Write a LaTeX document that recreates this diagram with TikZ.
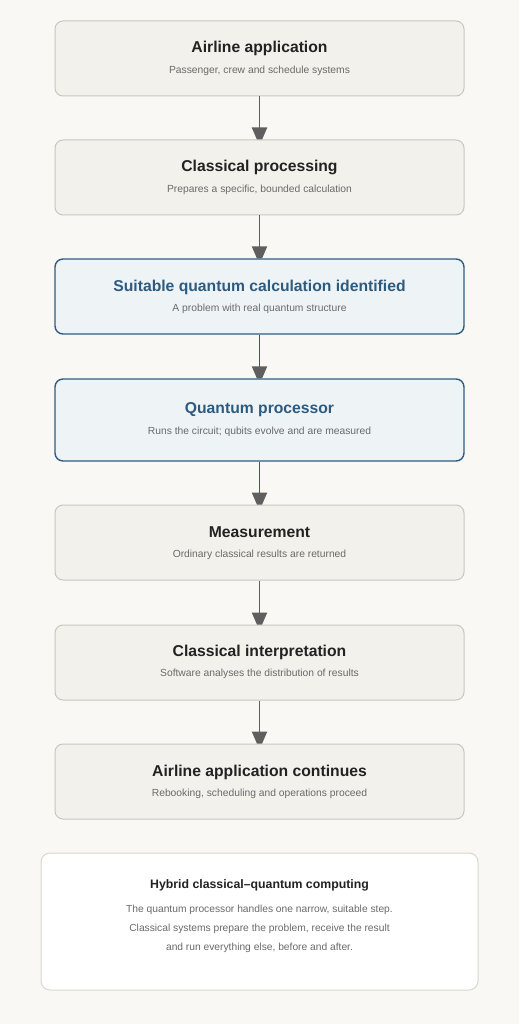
\documentclass[tikz,border=0pt]{standalone}
\usepackage{fontspec}
\setmainfont{Liberation Sans}
\usetikzlibrary{decorations.markings}
\definecolor{bg}{HTML}{F9F8F4}
\definecolor{boxfill}{HTML}{F2F1EC}
\definecolor{boxline}{HTML}{C9C6BD}
\definecolor{qfill}{HTML}{EEF3F6}
\definecolor{qline}{HTML}{2F5D82}
\definecolor{qtext}{HTML}{2D5B80}
\definecolor{dark}{HTML}{222222}
\definecolor{sub}{HTML}{6A6A6A}
\definecolor{arr}{HTML}{5F5F5F}
\definecolor{noteline}{HTML}{DAD7CE}
\tikzset{
  stepbox/.style={draw=boxline, fill=boxfill, line width=1pt, rounded corners=8pt, minimum width=409pt, minimum height=75pt, inner sep=0pt},
  qbox/.style={stepbox, draw=qline, fill=qfill, line width=1.4pt},
  ttl/.style={font=\fontsize{15.7}{18}\selectfont\bfseries, text=dark, inner sep=0pt},
  qttl/.style={ttl, text=qtext},
  subt/.style={font=\fontsize{10.3}{12}\selectfont, text=sub, inner sep=0pt},
  flow/.style={draw=arr, line width=1.8pt, shorten >=3pt,
    postaction={decorate, decoration={markings, mark=at position 1 with {
      \fill[arr] (-12pt,7.8pt) -- (0pt,2.6pt) -- (0pt,-2.6pt) -- (-12pt,-7.8pt) -- cycle;}}}},
  qflow/.style={flow, draw=qline}
}
\begin{document}
\begin{tikzpicture}[x=1pt,y=-1pt]
\fill[bg] (0,0) rectangle (519,1024);
\useasboundingbox (0,0) rectangle (519,1024);

\node[stepbox] (b1) at (259.5,58.5) {};
\node[ttl] (t1) at (259.5,48) {Airline application};
\node[subt] (s1) at (259.5,71) {Passenger, crew and schedule systems};

\node[stepbox] (b2) at (259.5,177.5) {};
\node[ttl] (t2) at (259.5,167) {Classical processing};
\node[subt] (s2) at (259.5,190) {Prepares a specific, bounded calculation};

\node[qbox] (b3) at (259.5,296.5) {};
\node[qttl] (t3) at (259.5,287) {Suitable quantum calculation identified};
\node[subt] (s3) at (259.5,309) {A problem with real quantum structure};

\node[qbox, minimum height=82pt] (b4) at (259.5,420) {};
\node[qttl] (t4) at (259.5,410) {Quantum processor};
\node[subt] (s4) at (259.5,432) {Runs the circuit; qubits evolve and are measured};

\node[stepbox] (b5) at (259.5,542.5) {};
\node[ttl] (t5) at (259.5,532) {Measurement};
\node[subt] (s5) at (259.5,555) {Ordinary classical results are returned};

\node[stepbox] (b6) at (259.5,662.5) {};
\node[ttl] (t6) at (259.5,652) {Classical interpretation};
\node[subt] (s6) at (259.5,674) {Software analyses the distribution of results};

\node[stepbox] (b7) at (259.5,781.5) {};
\node[ttl] (t7) at (259.5,772) {Airline application continues};
\node[subt] (s7) at (259.5,794) {Rebooking, scheduling and operations proceed};

\draw[flow] (b1.south) -- (b2.north);
\draw[flow] (b2.south) -- (b3.north);
\draw[qflow] (b3.south) -- (b4.north);
\draw[qflow] (b4.south) -- (b5.north);
\draw[flow] (b5.south) -- (b6.north);
\draw[flow] (b6.south) -- (b7.north);

\node[draw=noteline, fill=white, line width=1pt, rounded corners=9pt, minimum width=437pt, minimum height=137pt, inner sep=0pt] (note) at (259.5,921.5) {};
\node[font=\fontsize{12.3}{14}\selectfont\bfseries, text=dark, inner sep=0pt] (nt) at (259.5,885) {Hybrid classical–quantum computing};
\node[font=\fontsize{10.25}{19}\selectfont, text=sub, align=center, inner sep=0pt] (nb) at (259.5,929) {The quantum processor handles one narrow, suitable step.\\Classical systems prepare the problem, receive the result\\and run everything else, before and after.};
\end{tikzpicture}
\end{document}
